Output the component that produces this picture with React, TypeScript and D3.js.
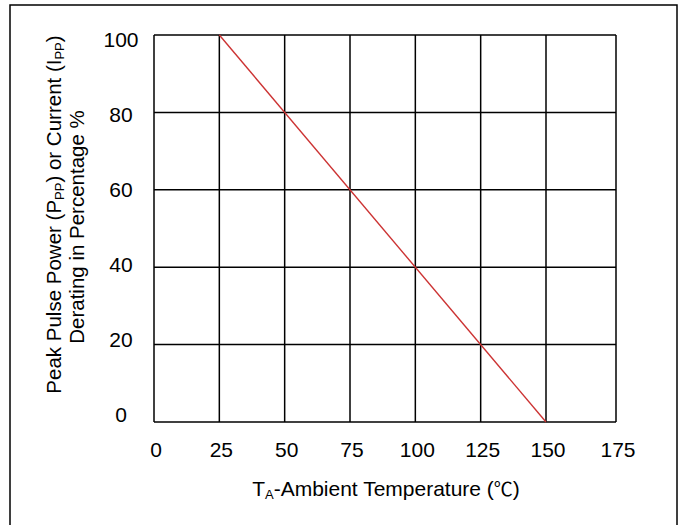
import React from 'react';
import * as d3 from 'd3';

const xTicks = [0, 25, 50, 75, 100, 125, 150, 175];
const yTicks = [0, 20, 40, 60, 80, 100];
const deratingTemp = [25, 150];
const deratingPct = [100, 0];

const FONT = '"Liberation Sans", Arial, sans-serif';

export default function App() {
  const W = 680, H = 525;
  const top = 35, bottom = 422;
  const x = d3.scaleLinear().domain([0, 150, 175]).range([154, 546, 616]);
  const y = d3.scaleLinear().domain([0, 100]).range([bottom, top]);
  const yLab = d3.scaleLinear().domain([0, 100]).range([415, 40]);
  const pts: [number, number][] = deratingTemp.map((t, i) => [t, deratingPct[i]]);
  const line = d3.line<[number, number]>().x(d => x(d[0])).y(d => y(d[1]));
  const fs = 21;
  const sub = 13;

  return (
    <svg width={W} height={H} style={{ position: 'absolute', left: 0, top: 0, display: 'block' }}
      fontFamily={FONT}>
      <rect x={0} y={0} width={W} height={H} fill="#fff" />
      <rect x={10} y={5} width={667} height={540} fill="none" stroke="#000" strokeWidth={1.5} />
      {xTicks.map(v => (
        <line key={'gx' + v} x1={x(v)} x2={x(v)} y1={y(0)} y2={y(100)} stroke="#000" strokeWidth={1.5} />
      ))}
      {yTicks.map(v => (
        <line key={'gy' + v} x1={x(0)} x2={x(175)} y1={y(v)} y2={y(v)} stroke="#000" strokeWidth={1.5} />
      ))}
      <path d={line(pts) || ''} fill="none" stroke="#cc3333" strokeWidth={1.4} />
      {xTicks.map(v => (
        <text key={'tx' + v} x={x(v) + 2} y={457} textAnchor="middle" fontSize={fs} fill="#000">{v}</text>
      ))}
      {yTicks.map(v => (
        <text key={'ty' + v} x={121} y={yLab(v) + 7} textAnchor="middle" fontSize={fs} fill="#000">{v}</text>
      ))}
      <text x={386} y={496} textAnchor="middle" fontSize={fs} fill="#000">
        T<tspan fontSize={sub} dy={3}>A</tspan>
        <tspan dy={-3}>-Ambient Temperature (</tspan>
        <tspan fontFamily='"Noto Sans CJK SC", sans-serif' fontSize={19}>℃</tspan>
        <tspan>)</tspan>
      </text>
      <text transform="translate(61,214.5) rotate(-90)" textAnchor="middle" fontSize={20.5} fill="#000">
        Peak Pulse Power (P<tspan fontSize={sub} dy={2.5}>PP</tspan><tspan dy={-2.5}>) or Current (I</tspan><tspan fontSize={sub} dy={2.5}>PP</tspan><tspan dy={-2.5}>)</tspan>
      </text>
      <text transform="translate(84,227) rotate(-90)" textAnchor="middle" fontSize={20.5} fill="#000">
        Derating in Percentage %
      </text>
    </svg>
  );
}
